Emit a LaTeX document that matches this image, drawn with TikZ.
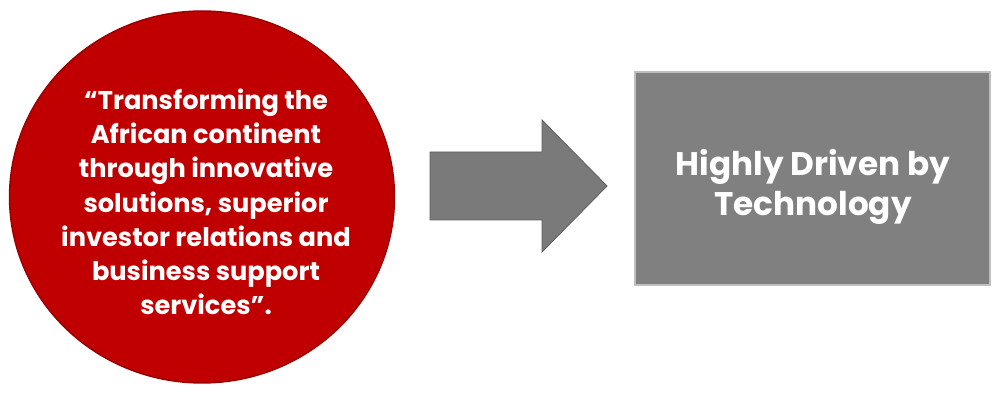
\documentclass[tikz,border=0pt]{standalone}
\usepackage{fontspec}
\setmainfont{Poppins}
\usepackage{xcolor}
\usepackage{tikz}
\usetikzlibrary{shapes.geometric, positioning, calc}

\definecolor{missionred}{RGB}{192,0,0}
\definecolor{techgray}{RGB}{128,128,128}
\definecolor{arrowgray}{RGB}{122,122,122}

\tikzset{
  mission/.style={ellipse, fill=missionred, draw=missionred!80!black, line width=0.8pt,
    minimum width=7.7cm, minimum height=7.44cm, inner sep=0pt},
  techbox/.style={rectangle, fill=techgray, draw=gray!50, line width=1.5pt,
    minimum width=7.1cm, minimum height=4.26cm, inner sep=0pt},
  whitetext/.style={white, align=center, font=\bfseries}
}

\begin{document}
\begin{tikzpicture}
\useasboundingbox (0,0) rectangle (19.86,7.86);
% Mission circle
\node[mission] (mission) at (4.04,3.92) {};
\node[whitetext, font=\fontsize{14.6pt}{19.5pt}\selectfont\bfseries] (missiontext) at (4.12,3.82)
  {``Transforming the\\African continent\\through innovative\\solutions, superior\\investor relations and\\business support\\services''.};
% Block arrow
\fill[arrowgray, draw=gray!75!black, line width=0.5pt]
  (8.6,4.82) -- (10.84,4.82) -- (10.84,5.46) -- (12.14,4.14)
  -- (10.84,2.82) -- (10.84,3.46) -- (8.6,3.46) -- cycle;
% Technology box
\node[techbox] (tech) at (16.25,4.29) {};
\node[whitetext, font=\fontsize{18.6pt}{22.8pt}\selectfont\bfseries] (techtext) at (16.26,4.12)
  {Highly Driven by\\Technology};
\end{tikzpicture}
\end{document}
